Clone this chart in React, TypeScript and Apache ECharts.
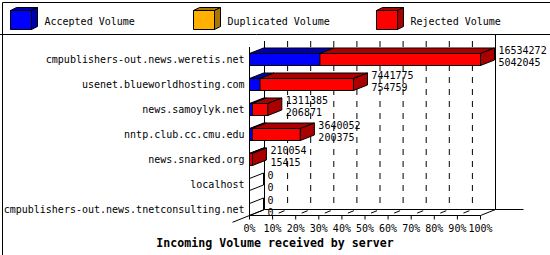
import React, { useEffect, useRef } from "react";
import * as echarts from "echarts";

const categories = [
  "cmpublishers-out.news.weretis.net",
  "usenet.blueworldhosting.com",
  "news.samoylyk.net",
  "nntp.club.cc.cmu.edu",
  "news.snarked.org",
  "localhost",
  "cmpublishers-out.news.tnetconsulting.net",
];
const seriesNames = ["Accepted Volume", "Duplicated Volume", "Rejected Volume"];
const seriesColors = ["#0000ff", "#ffb000", "#ff0000"];
const seriesDarkColors = ["#0000aa", "#aa7500", "#aa0000"];
const acceptedVolume = [5042045, 754759, 206871, 200375, 15415, 0, 0];
const duplicatedVolume = [0, 0, 0, 0, 0, 0, 0];
const rejectedVolume = [11492227, 6687016, 1104514, 3439677, 194639, 0, 0];
const totalVolume = [16534272, 7441775, 1311385, 3640052, 210054, 0, 0];
const chartTitle = "Incoming Volume received by server";

const FONT_FAMILY = '"DejaVu Sans Mono", "Liberation Mono", monospace';
const FONT = `10px ${FONT_FAMILY}`;

const BDX = 14;
const BDY = -5.5;
const HALF = 6;
const WDX = 15;
const WDY = -6;

function renderBar(params: any, api: any) {
  const i = api.value(0);
  const vals = [api.value(1), api.value(2), api.value(3)];
  const base = api.coord([0, i]);
  const cy = base[1];
  const top = cy - HALF;
  const bot = cy + HALF;
  const children: any[] = [];
  let cum = 0;
  let endX = base[0];
  let lastIdx = -1;
  for (let k = 0; k < 3; k++) {
    const xa = api.coord([cum, i])[0];
    cum += vals[k];
    const xb = api.coord([cum, i])[0];
    if (vals[k] > 0) {
      children.push({
        type: "rect",
        shape: { x: xa, y: top, width: xb - xa, height: bot - top },
        style: { fill: seriesColors[k], stroke: "#000", lineWidth: 1 },
      });
      children.push({
        type: "polygon",
        shape: {
          points: [
            [xa, top],
            [xa + BDX, top + BDY],
            [xb + BDX, top + BDY],
            [xb, top],
          ],
        },
        style: { fill: seriesDarkColors[k], stroke: "#000", lineWidth: 1 },
      });
      lastIdx = k;
      endX = xb;
    }
  }
  children.push({
    type: "polygon",
    shape: {
      points: [
        [endX, top],
        [endX + BDX, top + BDY],
        [endX + BDX, bot + BDY],
        [endX, bot],
      ],
    },
    style: {
      fill: lastIdx >= 0 ? seriesDarkColors[lastIdx] : "none",
      stroke: "#000",
      lineWidth: 1,
    },
  });
  const lx = endX + BDX + 4;
  children.push({
    type: "text",
    x: lx,
    y: cy - 9,
    style: { text: String(api.value(4)), font: FONT, fill: "#000", align: "left", verticalAlign: "middle" },
  });
  children.push({
    type: "text",
    x: lx,
    y: cy + 2.5,
    style: { text: String(api.value(5)), font: FONT, fill: "#000", align: "left", verticalAlign: "middle" },
  });
  return { type: "group", children };
}

function renderFrame(params: any, api: any) {
  const cs = params.coordSys;
  const n = categories.length;
  const xAt = (p: number) => api.coord([p, 0])[0];
  const xl = xAt(0);
  const xr = xAt(100);
  const yTop = cs.y;
  const yFloor = api.coord([0, n - 1])[1] + HALF;
  const ln = (x1: number, y1: number, x2: number, y2: number, dash?: number[]) => ({
    type: "line",
    shape: { x1, y1, x2, y2 },
    style: { stroke: "#000", lineWidth: 1, lineDash: dash || null },
  });
  const children: any[] = [];
  children.push(ln(xl + WDX, yTop + WDY, xl + WDX, yFloor + WDY));
  children.push(ln(xr + WDX, yTop + WDY - 6, xr + WDX, yFloor + WDY));
  for (let p = 10; p < 100; p += 10) {
    children.push(ln(xAt(p) + WDX, yTop + WDY, xAt(p) + WDX, yFloor + WDY, [6, 6]));
  }
  children.push(ln(xl, yTop, xl, yFloor));
  children.push(ln(xl, yFloor, xr, yFloor));
  children.push(ln(xr, yFloor, xr + WDX, yFloor + WDY));
  children.push(ln(xl + WDX, yFloor + WDY, xr + WDX + 28, yFloor + WDY));
  children.push(ln(xl - 17, yFloor + 6.8, xl + WDX, yFloor + WDY));
  for (let p = 0; p <= 100; p += 10) {
    const x = xAt(p);
    children.push(ln(x, yFloor, x, yFloor + 4));
    if (p > 0 && p < 100) children.push(ln(x + 6, yFloor - 2.4, x + WDX - 3, yFloor + WDY + 1.2));
  }
  return { type: "group", children };
}

export default function App() {
  const ref = useRef<HTMLDivElement>(null);
  useEffect(() => {
    if (!ref.current) return;
    const chart = echarts.init(ref.current, null, { renderer: "svg" });
    const maxTotal = Math.max(...totalVolume);
    const pct = (v: number) => (v / maxTotal) * 100;
    const barData = categories.map((_, i) => [
      i,
      pct(acceptedVolume[i]),
      pct(duplicatedVolume[i]),
      pct(rejectedVolume[i]),
      totalVolume[i],
      acceptedVolume[i],
    ]);

    const legendChildren: any[] = [];
    seriesNames.forEach((name, k) => {
      const x0 = 10.5 + k * 183;
      const y0 = 10.5;
      const w = 21;
      const h = 19;
      legendChildren.push({
        type: "polygon",
        shape: { points: [[x0, y0], [x0 + 6, y0 - 3], [x0 + w + 6, y0 - 3], [x0 + w, y0]] },
        style: { fill: seriesDarkColors[k], stroke: "#000", lineWidth: 1 },
      });
      legendChildren.push({
        type: "polygon",
        shape: { points: [[x0 + w, y0], [x0 + w + 6, y0 - 3], [x0 + w + 6, y0 + h - 3], [x0 + w, y0 + h]] },
        style: { fill: seriesDarkColors[k], stroke: "#000", lineWidth: 1 },
      });
      legendChildren.push({
        type: "rect",
        shape: { x: x0, y: y0, width: w, height: h },
        style: { fill: seriesColors[k], stroke: "#000", lineWidth: 1 },
      });
      legendChildren.push({
        type: "text",
        x: x0 + 34,
        y: 21,
        style: { text: name, font: FONT, fill: "#000", align: "left", verticalAlign: "middle" },
      });
    });

    chart.setOption({
      animation: false,
      backgroundColor: "#fff",
      title: {
        text: chartTitle,
        left: "center",
        top: 237,
        padding: 0,
        textStyle: { fontSize: 11.6, fontWeight: "bold", fontFamily: FONT_FAMILY, color: "#000" },
      },
      grid: { left: 249.5, top: 47, width: 231, height: 175 },
      xAxis: {
        type: "value",
        min: 0,
        max: 100,
        interval: 10,
        axisLine: { show: false },
        axisTick: { show: false },
        splitLine: { show: false },
        axisLabel: {
          formatter: (v: number) => `${v}%`,
          fontSize: 10,
          fontFamily: FONT_FAMILY,
          color: "#000",
          margin: 1,
        },
      },
      yAxis: {
        type: "category",
        inverse: true,
        data: categories,
        axisLine: { show: false },
        axisTick: { show: false },
        splitLine: { show: false },
        axisLabel: { fontSize: 10, fontFamily: FONT_FAMILY, color: "#000", margin: 5 },
      },
      graphic: [
        {
          type: "rect",
          left: 0,
          top: 0,
          shape: { x: 0.5, y: 0.5, width: 549, height: 254 },
          style: { fill: "none", stroke: "#000", lineWidth: 1 },
          silent: true,
        },
        {
          type: "line",
          shape: { x1: 0, y1: 34.5, x2: 550, y2: 34.5 },
          style: { stroke: "#000", lineWidth: 1 },
        },
        { type: "group", children: legendChildren },
      ],
      series: [
        {
          type: "custom",
          name: "frame",
          z: 1,
          data: [[0]],
          encode: { x: 0 },
          renderItem: renderFrame,
          silent: true,
        },
        {
          type: "custom",
          name: "Incoming Volume",
          z: 2,
          data: barData,
          encode: { x: 1, y: 0 },
          renderItem: renderBar,
        },
      ],
    });
    return () => chart.dispose();
  }, []);
  return (
    <div
      ref={ref}
      style={{ position: "fixed", left: 0, top: 0, width: 550, height: 255, background: "#fff" }}
    />
  );
}
